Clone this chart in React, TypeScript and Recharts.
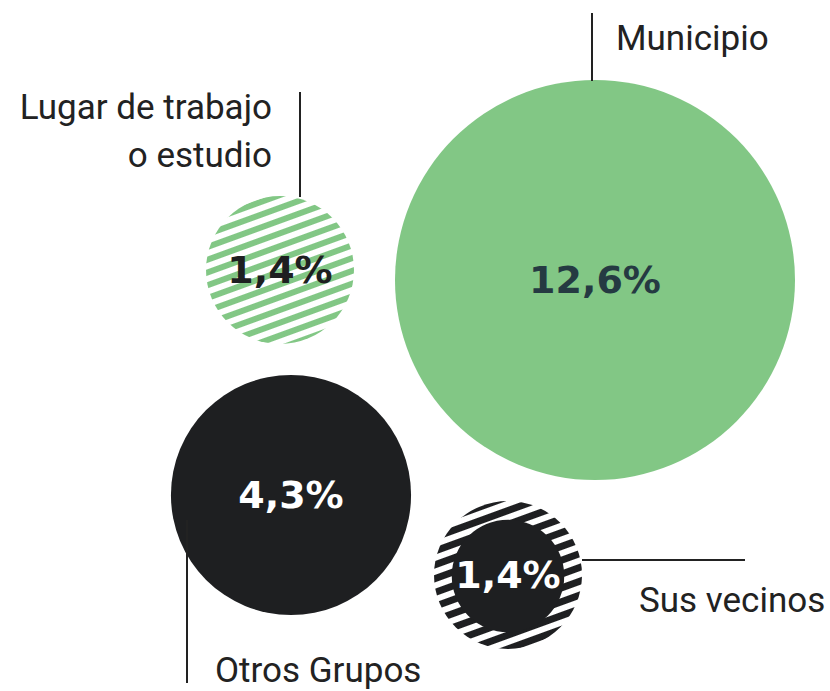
import React from "react";
import { ScatterChart, Scatter, XAxis, YAxis, ZAxis } from "recharts";

const CATEGORIES = ["Lugar de trabajo|o estudio", "Municipio", "Otros Grupos", "Sus vecinos"];
const VALUES = [1.4, 12.6, 4.3, 1.4];
const VALUE_LABELS = ["1,4%", "12,6%", "4,3%", "1,4%"];
// bubble centres in layout units
const POS_X = [280, 595, 291, 508];
const POS_Y = [270, 280, 495, 575];

const data = CATEGORIES.map((name, i) => ({
  name,
  value: VALUES[i],
  label: VALUE_LABELS[i],
  x: POS_X[i],
  y: POS_Y[i],
}));

const GREEN = "#82c785";
const BLACK = "#1e1f21";
const LINE = "#222222";
const LABEL_FONT = "Roboto, 'Noto Sans', sans-serif";
const VALUE_FONT = "'DejaVu Sans', sans-serif";

// look of each bubble + where its leader line and caption sit
const STYLES: Record<string, any> = {
  "Lugar de trabajo|o estudio": {
    fill: "url(#stripeGreen)",
    text: BLACK,
    line: [300, 92, 300, 197],
    caption: { x: 272, y: 119, anchor: "end", gap: 48 },
  },
  Municipio: {
    fill: GREEN,
    text: "#253a42",
    line: [592, 13, 592, 81],
    caption: { x: 616, y: 50, anchor: "start", gap: 0 },
  },
  "Otros Grupos": {
    fill: BLACK,
    text: "#ffffff",
    line: [187, 520, 187, 683],
    caption: { x: 215, y: 682, anchor: "start", gap: 0 },
  },
  "Sus vecinos": {
    fill: "url(#stripeBlack)",
    inner: BLACK,
    text: "#ffffff",
    line: [582, 560, 745, 560],
    caption: { x: 639, y: 612, anchor: "start", gap: 0 },
  },
};

const Bubble = (props: any) => {
  const { cx, cy, payload } = props;
  const r = props.width ? props.width / 2 : Math.sqrt(props.size / Math.PI);
  const s = STYLES[payload.name];
  const lines = payload.name.split("|");
  const [x1, y1, x2, y2] = s.line;
  return (
    <g>
      <circle cx={cx} cy={cy} r={r} fill={s.fill} />
      {s.inner && <circle cx={cx} cy={cy + 1} r={r * 0.76} fill={s.inner} />}
      <text
        x={cx}
        y={cy + 13}
        textAnchor="middle"
        fill={s.text}
        fontFamily={VALUE_FONT}
        fontWeight="bold"
        fontSize={38}
      >
        {payload.label}
      </text>
      <line x1={x1} y1={y1} x2={x2} y2={y2} stroke={LINE} strokeWidth={2} />
      {lines.map((t: string, i: number) => (
        <text
          key={i}
          x={s.caption.x}
          y={s.caption.y + i * s.caption.gap}
          textAnchor={s.caption.anchor}
          fill={LINE}
          fontFamily={LABEL_FONT}
          fontSize={35}
        >
          {t}
        </text>
      ))}
    </g>
  );
};

export default function App() {
  return (
    <div style={{ position: "absolute", left: 0, top: 0, background: "#fff" }}>
      <ScatterChart width={830} height={691} margin={{ top: 0, right: 0, bottom: 0, left: 0 }}>
        <defs>
          <pattern
            id="stripeGreen"
            patternUnits="userSpaceOnUse"
            width={12}
            height={12}
            patternTransform="rotate(-20)"
          >
            <rect x={0} y={0} width={12} height={12} fill="#ffffff" />
            <rect x={0} y={0} width={12} height={6} fill={GREEN} />
          </pattern>
          <pattern
            id="stripeBlack"
            patternUnits="userSpaceOnUse"
            width={13}
            height={13}
            patternTransform="rotate(-20)"
          >
            <rect x={0} y={0} width={13} height={13} fill="#ffffff" />
            <rect x={0} y={0} width={13} height={7} fill={BLACK} />
          </pattern>
        </defs>
        <XAxis type="number" dataKey="x" domain={[0, 830]} hide />
        <YAxis type="number" dataKey="y" domain={[0, 691]} reversed hide />
        <ZAxis type="number" dataKey="value" domain={[0, 12.6]} range={[3645, 125664]} />
        <Scatter data={data} shape={Bubble} isAnimationActive={false} />
      </ScatterChart>
    </div>
  );
}
